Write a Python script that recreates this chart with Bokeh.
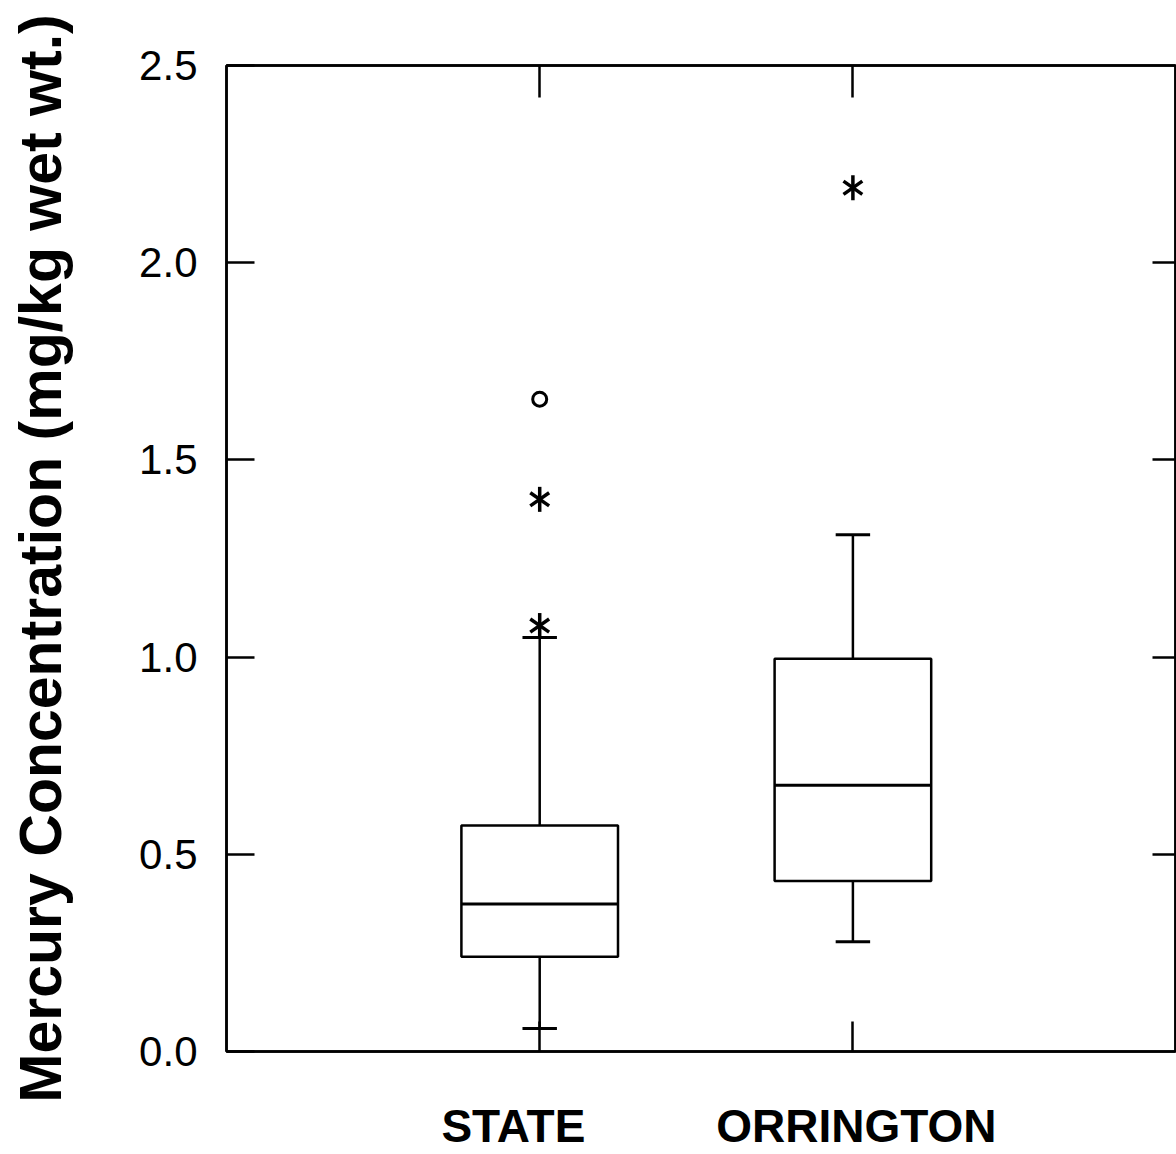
from bokeh.plotting import figure
from bokeh.models import (LinearAxis, FixedTicker, Range1d, ColumnDataSource,
                          PrintfTickFormatter)
from bokeh.embed import file_html
from bokeh.resources import INLINE

# ---- data ----
categories = ["STATE", "ORRINGTON"]
positions = [1, 2]
q1 = [0.240, 0.432]
median = [0.374, 0.675]
q3 = [0.573, 0.996]
whisker_low = [0.058, 0.278]
whisker_high = [1.05, 1.31]

star_pos = [1, 1, 2]
star_val = [1.08, 1.40, 2.19]
circle_pos = [1]
circle_val = [1.654]

y_ticks = [0.0, 0.5, 1.0, 1.5, 2.0, 2.5]
y_title = "Mercury Concentration (mg/kg wet wt.)"

# ---- style constants ----
BOX_HALF = 0.25
CAP_HALF = 0.055
LABEL_SHIFT = {"STATE": -0.084, "ORRINGTON": 0.011}
LW = 2.5
FONT = "Liberation Sans"

p = figure(width=1176, height=1154, x_range=Range1d(0.0, 3.03), y_range=Range1d(0.0, 2.5),
           output_backend="svg", toolbar_location=None,
           x_axis_location=None, y_axis_location=None,
           min_border_left=226, min_border_right=1, min_border_top=65, min_border_bottom=99)
p.grid.visible = False
p.outline_line_color = "black"
p.outline_line_width = LW
p.outline_line_alpha = 1.0
p.background_fill_color = "white"
p.border_fill_color = "white"

# left axis
yax = LinearAxis(ticker=FixedTicker(ticks=y_ticks), formatter=PrintfTickFormatter(format="%.1f"))
yax.axis_label = y_title
yax.axis_label_text_font = FONT
yax.axis_label_text_font_style = "bold"
yax.axis_label_text_font_size = "59px"
yax.axis_label_text_color = "black"
yax.axis_label_standoff = 62
yax.major_label_text_font = FONT
yax.major_label_text_font_size = "42px"
yax.major_label_text_color = "black"
yax.major_label_standoff = 29
yax.major_tick_in = 28
yax.major_tick_out = 0
yax.minor_tick_line_color = None
yax.axis_line_width = LW
yax.major_tick_line_width = LW
yax.axis_line_color = "black"
yax.major_tick_line_color = "black"
p.add_layout(yax, "left")

def bare_axis(ticks, tick_in):
    ax = LinearAxis(ticker=FixedTicker(ticks=ticks))
    ax.major_tick_in = tick_in
    ax.major_tick_out = 0
    ax.minor_tick_line_color = None
    ax.major_label_text_color = None
    ax.major_label_text_font_size = "0px"
    ax.major_label_standoff = 0
    ax.axis_line_width = LW
    ax.major_tick_line_width = LW
    ax.axis_line_color = "black"
    ax.major_tick_line_color = "black"
    return ax

p.add_layout(bare_axis([0.5, 1.0, 1.5, 2.0], 23), "right")
p.add_layout(bare_axis(positions, 32), "above")
p.add_layout(bare_axis(positions, 30), "below")

# category label axis
label_ticks = [pos + LABEL_SHIFT[c] for pos, c in zip(positions, categories)]
cax = LinearAxis(ticker=FixedTicker(ticks=label_ticks))
cax.major_label_overrides = {t: c for t, c in zip(label_ticks, categories)}
cax.major_tick_in = 0
cax.major_tick_out = 0
cax.major_tick_line_color = None
cax.minor_tick_line_color = None
cax.axis_line_color = None
cax.major_label_text_font = FONT
cax.major_label_text_font_style = "bold"
cax.major_label_text_font_size = "46px"
cax.major_label_text_color = "black"
cax.major_label_standoff = 48
p.add_layout(cax, "below")

# ---- boxes ----
src = ColumnDataSource(dict(
    pos=positions,
    left=[x - BOX_HALF for x in positions],
    right=[x + BOX_HALF for x in positions],
    cl=[x - CAP_HALF for x in positions],
    cr=[x + CAP_HALF for x in positions],
    q1=q1, med=median, q3=q3, lo=whisker_low, hi=whisker_high,
))

p.segment(x0="pos", x1="pos", y0="q3", y1="hi", source=src, line_color="black", line_width=LW)
p.segment(x0="pos", x1="pos", y0="q1", y1="lo", source=src, line_color="black", line_width=LW)
p.segment(x0="cl", x1="cr", y0="hi", y1="hi", source=src, line_color="black", line_width=LW + 0.5)
p.segment(x0="cl", x1="cr", y0="lo", y1="lo", source=src, line_color="black", line_width=LW + 0.5)
p.quad(left="left", right="right", bottom="q1", top="q3", source=src,
       fill_color="white", line_color="black", line_width=LW)
p.segment(x0="left", x1="right", y0="med", y1="med", source=src, line_color="black", line_width=LW + 0.5)

# ---- outliers ----
arm_angles = [90, 35, -35]
arm_sizes = [25, 23, 23]
sx, sy, sa, ss = [], [], [], []
for x, y in zip(star_pos, star_val):
    for a, s in zip(arm_angles, arm_sizes):
        sx.append(x); sy.append(y); sa.append(a); ss.append(s)
p.scatter(x=sx, y=sy, angle=sa, size=ss, angle_units="deg", marker="dash",
          line_color="black", line_width=3.5)
p.scatter(x=circle_pos, y=circle_val, marker="circle", size=14, fill_color="white",
          line_color="black", line_width=3)

open("out.html", "w").write(file_html(p, INLINE))
